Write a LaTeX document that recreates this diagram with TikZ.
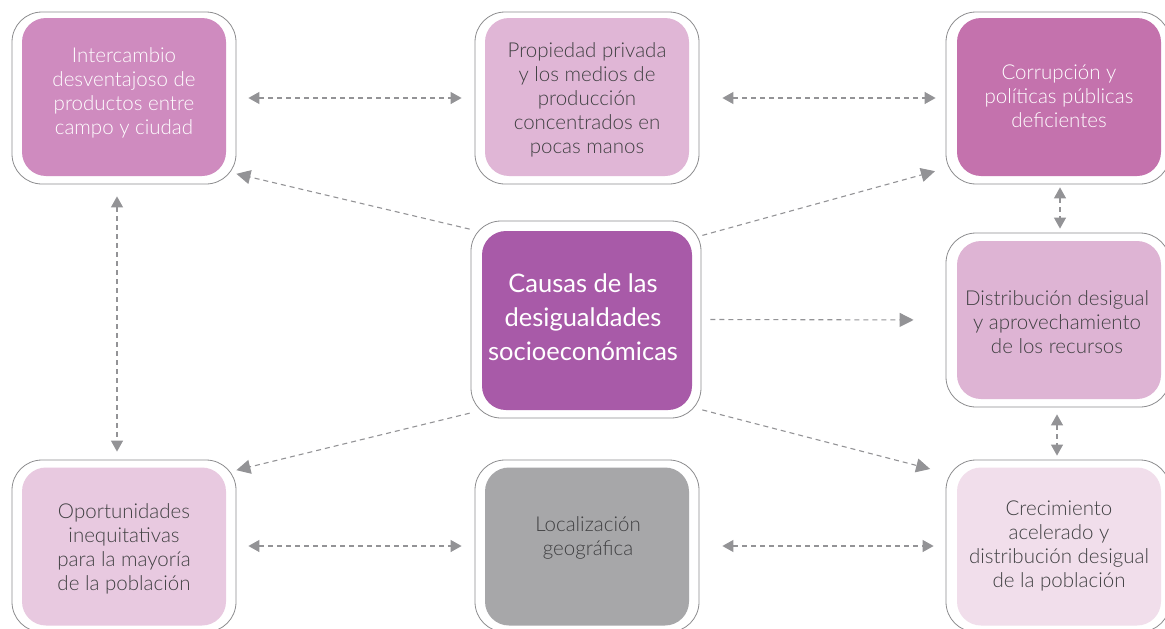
\documentclass[tikz,border=0pt]{standalone}
\usepackage{fontspec}
\IfFontExistsTF{Lato Light}{\setmainfont{Lato Light}}{\setmainfont{Lato}}
\newfontfamily\centrefont{Lato}
\usetikzlibrary{arrows.meta}
\definecolor{cTL}{HTML}{CF8BBF}
\definecolor{cTM}{HTML}{E0B6D6}
\definecolor{cTR}{HTML}{C472AD}
\definecolor{cC}{HTML}{A85AA8}
\definecolor{cMR}{HTML}{DEB4D4}
\definecolor{cBL}{HTML}{E8C9E0}
\definecolor{cBM}{HTML}{A7A7A9}
\definecolor{cBR}{HTML}{F1DEEB}
\definecolor{txtdark}{HTML}{404042}
\definecolor{arrgray}{HTML}{939396}
\definecolor{framegray}{HTML}{8C8C8E}
\tikzset{
  outerbox/.style={draw=framegray, line width=0.8pt, fill=white, rounded corners=30pt,
    minimum width=224pt, minimum height=172pt, inner sep=0pt},
  innerbox/.style={rounded corners=24pt, minimum width=204pt, minimum height=158pt,
    inner sep=0pt},
  boxtext/.style={inner sep=0pt, align=center, font=\fontsize{20.5}{24}\selectfont, text=txtdark},
  lighttext/.style={boxtext, text=white},
  dblarrow/.style={draw=arrgray, line width=1.1pt, dash pattern=on 5pt off 4pt,
    {Triangle[length=11pt,width=12pt]}-{Triangle[length=11pt,width=12pt]}},
  onearrow/.style={draw=arrgray, line width=1.1pt, dash pattern=on 5pt off 4pt,
    -{Triangle[length=14pt,width=14pt]}},
}
\begin{document}
\begin{tikzpicture}[x=1pt,y=-1pt]
\useasboundingbox (0,0) rectangle (1165,629);
% outer frames
\node[outerbox] (TLo) at (124,98) {};
\node[outerbox] (TMo) at (587,98) {};
\node[outerbox] (TRo) at (1058,98) {};
\node[outerbox, minimum width=230pt, minimum height=197pt] (Co) at (586,319.5) {};
\node[outerbox, minimum height=174pt] (MRo) at (1058,320) {};
\node[outerbox] (BLo) at (124,546) {};
\node[outerbox] (BMo) at (587,546) {};
\node[outerbox] (BRo) at (1058,546) {};
% inner coloured boxes
\node[innerbox, fill=cTL] (TL) at (124,97) {};
\node[innerbox, fill=cTM] (TM) at (587,97) {};
\node[innerbox, fill=cTR] (TR) at (1059,97) {};
\node[innerbox, fill=cC, minimum width=210pt, minimum height=179pt] (C) at (587,320.5) {};
\node[innerbox, fill=cMR] (MR) at (1059,320) {};
\node[innerbox, fill=cBL] (BL) at (124,546.5) {};
\node[innerbox, fill=cBM] (BM) at (587,546.5) {};
\node[innerbox, fill=cBR] (BR) at (1059,546.5) {};
% texts
\node[lighttext] (TLt) at (124,92.5) {Intercambio\\desventajoso de\\productos entre\\campo y ciudad};
\node[boxtext] (TMt) at (587,99.5) {Propiedad privada\\y los medios de\\producción\\concentrados en\\pocas manos};
\node[lighttext] (TRt) at (1059,96) {Corrupción y\\políticas públicas\\deficientes};
\node[lighttext, font=\centrefont\fontsize{25.5}{34}\selectfont] (Ct) at (583,317.5) {Causas de las\\desigualdades\\socioeconómicas};
\node[boxtext] (MRt) at (1057,322.5) {Distribución desigual\\y aprovechamiento\\de los recursos};
\node[boxtext] (BLt) at (124,549) {Oportunidades\\inequitativas\\para la mayoría\\de la población};
\node[boxtext] (BMt) at (588,537.5) {Localización\\geográfica};
\node[boxtext] (BRt) at (1059,545.5) {Crecimiento\\acelerado y\\distribución desigual\\de la población};
% double arrows
\draw[dblarrow, shorten <=12pt, shorten >=13pt] (TLo) -- (TMo);
\draw[dblarrow, shorten <=23pt, shorten >=10pt] (TMo) -- (TRo);
\draw[dblarrow, shorten <=12pt, shorten >=13pt] (BLo) -- (BMo);
\draw[dblarrow, shorten <=23pt, shorten >=12pt] (BMo) -- (BRo);
\draw[dblarrow, shorten <=12pt, shorten >=8pt] ([xshift=-7pt]TLo.south) -- ([xshift=-7pt]BLo.north);
\draw[dblarrow, shorten <=3pt, shorten >=4pt] ([xshift=2pt]TRo.south) -- ([xshift=2pt]MRo.north);
\draw[dblarrow, shorten <=7pt, shorten >=4pt] ([xshift=-1pt]MRo.south) -- ([xshift=-1pt]BRo.north);
% single arrows from centre
\draw[onearrow, shorten <=1pt] (Co.142.8) -- (TLo.-34.3);
\draw[onearrow, shorten <=1pt, shorten >=11pt] (Co.36.7) -- (TRo.-148.1);
\draw[onearrow, shorten <=9pt, shorten >=32pt] (Co.east) -- (MRo.west);
\draw[onearrow, shorten <=1pt] (Co.-141.6) -- (BLo.34.6);
\draw[onearrow, shorten <=1pt, shorten >=16pt] (Co.-38.2) -- (BRo.147.9);
\end{tikzpicture}
\end{document}
